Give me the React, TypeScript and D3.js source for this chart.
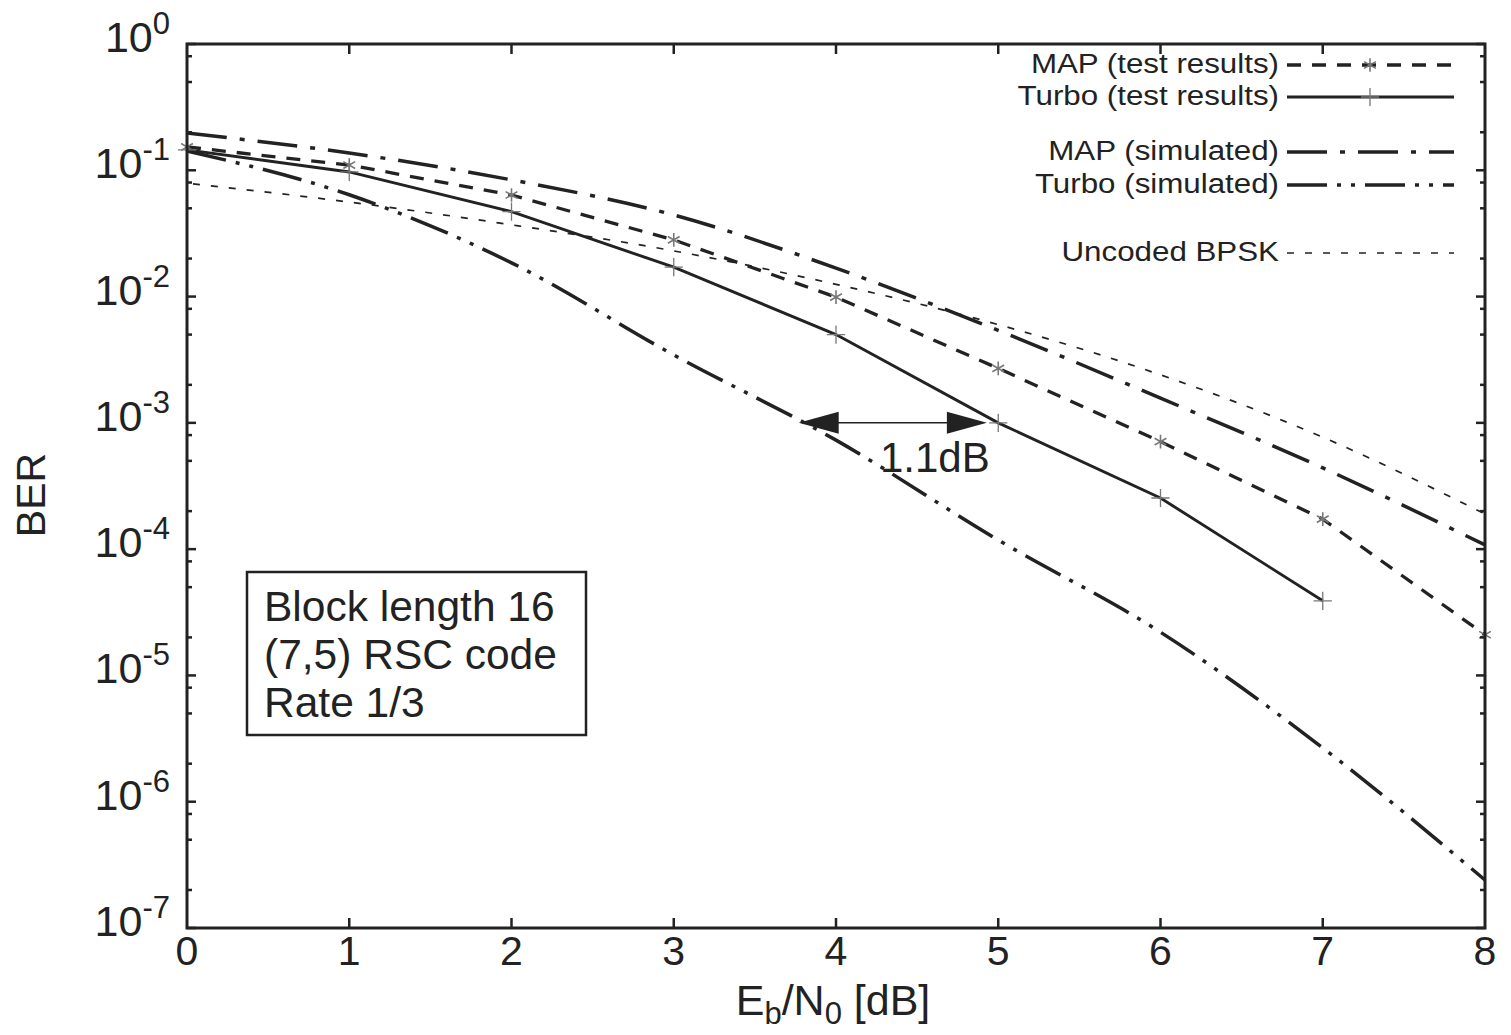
import React from 'react';
import * as d3 from 'd3';

const width = 1511;
const height = 1035;
const frame = {left: 187, right: 1485, top: 44, bottom: 928};
const ink = '#222222';
const markGrey = '#777777';
const font = '"Liberation Sans", Arial, Helvetica, sans-serif';

// Eb/N0 in dB
const ebn0 = [0, 1, 2, 3, 4, 5, 6, 7, 8];
// BER values
const mapTest = [0.153, 0.110, 0.0637, 0.0281, 0.0099, 0.0027, 7.1e-4, 1.73e-4, 2.1e-5];
const turboTest = [0.145, 0.097, 0.047, 0.0171, 0.0050, 1.0e-3, 2.54e-4, 3.9e-5];
const mapSim = [0.197, 0.137, 0.084, 0.0443, 0.0168, 0.0054, 0.00157, 4.4e-4, 1.08e-4];
const turboSim = [0.142, 0.064, 0.0185, 0.00345, 7.3e-4, 1.18e-4, 2.2e-5, 2.67e-6, 2.4e-7];
const uncoded = [0.079, 0.056, 0.037, 0.023, 0.0125, 0.006, 0.0024, 7.7e-4, 1.9e-4];

const xTicks = [0, 1, 2, 3, 4, 5, 6, 7, 8];
const yExponents = [0, -1, -2, -3, -4, -5, -6, -7];
const minorMantissas = [2, 5, 8];

const boxLines = ['Block length 16', '(7,5) RSC code', 'Rate 1/3'];
// gap annotation: turbo simulated vs turbo test at BER 1e-3
const gapBer = 1e-3;
const gapFrom = 3.77;
const gapTo = 4.93;
const gapLabel = '1.1dB';

type Series = {
    name: string;
    values: number[];
    dash: string;
    width: number;
    curve: d3.CurveFactory;
    marker?: 'star' | 'plus';
    legendY: number;
};

const series: Series[] = [
    {name: 'Uncoded BPSK', values: uncoded, dash: '7,11', width: 1.7, curve: d3.curveMonotoneX, legendY: 253},
    {name: 'MAP (simulated)', values: mapSim, dash: '40,13,5,13', width: 3.5, curve: d3.curveMonotoneX, legendY: 152},
    {name: 'Turbo (simulated)', values: turboSim, dash: '40,10,4,10,4,10', width: 3.5, curve: d3.curveMonotoneX, legendY: 185},
    {name: 'MAP (test results)', values: mapTest, dash: '14,11', width: 3.3, curve: d3.curveLinear, marker: 'star', legendY: 65},
    {name: 'Turbo (test results)', values: turboTest, dash: '', width: 2.9, curve: d3.curveLinear, marker: 'plus', legendY: 97},
];

const xScale = d3.scaleLinear().domain([0, 8]).range([frame.left, frame.right]);
const yScale = d3.scaleLog().domain([1e-7, 1]).range([frame.bottom, frame.top]);

const star = d3.symbol().type(d3.symbolAsterisk).size(130);
const plus = d3.symbol().type(d3.symbolPlus).size(110);

function Marker({kind, x, y}: {kind: 'star' | 'plus'; x: number; y: number}) {
    const d = kind === 'star' ? star() : plus();
    return <path d={d || ''} transform={`translate(${x},${y})`} fill="none" stroke={markGrey}
                 strokeWidth={kind === 'star' ? 1.6 : 1.3}/>;
}

export default function App() {
    const minorTicks: number[] = [];
    yExponents.forEach(e => {
        minorMantissas.forEach(m => {
            const v = m * Math.pow(10, e - 1);
            if (v >= 1e-7 && v <= 1) minorTicks.push(v);
        });
    });

    const lineGen = (s: Series) => d3.line<number>()
        .x((_, i) => xScale(ebn0[i]))
        .y(d => yScale(d))
        .curve(s.curve)(s.values) || '';

    const legendTextX = 1279;
    const legendLine = [1287, 1454];

    return (
        <svg width={width} height={height} style={{position: 'absolute', left: 0, top: 0, background: '#fff'}}
             fontFamily={font}>
            <rect width={width} height={height} fill="#fff"/>

            {/* curves */}
            {series.map(s => (
                <g key={s.name}>
                    <path d={lineGen(s)} fill="none" stroke={ink} strokeWidth={s.width}
                          strokeDasharray={s.dash || undefined}
                          strokeDashoffset={s.name === 'Uncoded BPSK' ? 12 : 0}/>
                    {s.marker && s.values.map((v, i) => (
                        <Marker key={i} kind={s.marker!} x={xScale(ebn0[i])} y={yScale(v)}/>
                    ))}
                </g>
            ))}

            {/* frame */}
            <rect x={frame.left} y={frame.top} width={frame.right - frame.left} height={frame.bottom - frame.top}
                  fill="none" stroke={ink} strokeWidth={3}/>

            {/* x ticks */}
            {xTicks.map(t => (
                <g key={t}>
                    {t > 0 && t < 8 && (
                        <>
                            <line x1={xScale(t)} x2={xScale(t)} y1={frame.bottom} y2={frame.bottom - 10} stroke={ink} strokeWidth={2.5}/>
                            <line x1={xScale(t)} x2={xScale(t)} y1={frame.top} y2={frame.top + 10} stroke={ink} strokeWidth={2.5}/>
                        </>
                    )}
                    <text x={xScale(t)} y={frame.bottom + 37} textAnchor="middle" fontSize={41} fill={ink}>{t}</text>
                </g>
            ))}

            {/* y ticks */}
            {yExponents.map(e => {
                const y = yScale(Math.pow(10, e));
                return (
                    <g key={e}>
                        <line x1={frame.left} x2={frame.left + 9} y1={y} y2={y} stroke={ink} strokeWidth={2.5}/>
                        <line x1={frame.right} x2={frame.right - 9} y1={y} y2={y} stroke={ink} strokeWidth={2.5}/>
                        <text x={frame.left - 17} y={y + 8} textAnchor="end" fontSize={43} fill={ink}>
                            10<tspan dy={-18} fontSize={31}>{e}</tspan>
                        </text>
                    </g>
                );
            })}
            {minorTicks.map((v, i) => {
                const y = yScale(v);
                return (
                    <g key={i}>
                        <line x1={frame.left} x2={frame.left + 5} y1={y} y2={y} stroke={ink} strokeWidth={2.5}/>
                        <line x1={frame.right} x2={frame.right - 5} y1={y} y2={y} stroke={ink} strokeWidth={2.5}/>
                    </g>
                );
            })}

            {/* axis titles */}
            <text x={833} y={1015} textAnchor="middle" fontSize={43} fill={ink}>
                E<tspan dy={9} fontSize={31}>b</tspan><tspan dy={-9}>/N</tspan><tspan dy={9} fontSize={31}>0</tspan><tspan dy={-9}> [dB]</tspan>
            </text>
            <text transform="translate(45,495) rotate(-90)" textAnchor="middle" fontSize={41} fill={ink}>BER</text>

            {/* legend */}
            {series.map(s => (
                <g key={'lg' + s.name}>
                    <text transform={`translate(${legendTextX},${s.legendY + 8}) scale(1.16,1)`} textAnchor="end"
                          fontSize={27} fill={ink}>{s.name}</text>
                    <line x1={legendLine[0]} x2={legendLine[1]} y1={s.legendY} y2={s.legendY} stroke={ink}
                          strokeWidth={s.width} strokeDasharray={s.dash || undefined}/>
                    {s.marker && <Marker kind={s.marker} x={1370} y={s.legendY}/>}
                </g>
            ))}

            {/* info box */}
            <rect x={247} y={572} width={339} height={163} fill="#fff" stroke={ink} strokeWidth={2.5}/>
            {boxLines.map((t, i) => (
                <text key={t} x={264} y={621 + i * 48} fontSize={42.5} fill={ink}>{t}</text>
            ))}

            {/* 1.1dB gap arrow */}
            <line x1={xScale(gapFrom) + 30} x2={xScale(gapTo) - 30} y1={yScale(gapBer)} y2={yScale(gapBer)}
                  stroke={ink} strokeWidth={1.5}/>
            <path d={`M${xScale(gapFrom)},${yScale(gapBer)} l40,-11 l0,22 Z`} fill={ink}/>
            <path d={`M${xScale(gapTo)},${yScale(gapBer)} l-40,-11 l0,22 Z`} fill={ink}/>
            <text x={(xScale(gapFrom) + xScale(gapTo)) / 2 + 42} y={yScale(gapBer) + 49} textAnchor="middle"
                  fontSize={42} fill={ink}>{gapLabel}</text>
        </svg>
    );
}
